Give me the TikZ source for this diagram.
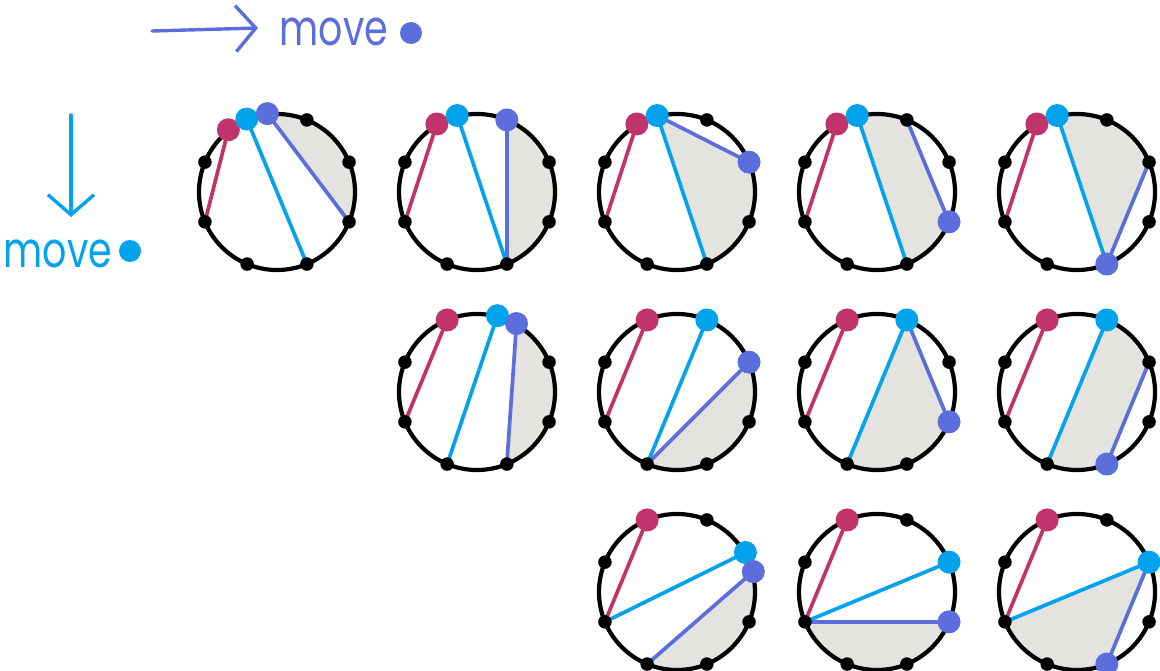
\documentclass[tikz,border=0pt]{standalone}
\usepackage{fontspec}
\newfontfamily\handfont{Poppins}
\usepackage{tikz}
\usetikzlibrary{arrows.meta}
\definecolor{pinkdot}{HTML}{C1336B}
\definecolor{cyandot}{HTML}{02A2EC}
\definecolor{purpledot}{HTML}{5B6EDC}
\definecolor{shadegrey}{HTML}{E4E3E0}

\begin{document}
\begin{tikzpicture}[
  x=1pt, y=1pt,
  ring/.style={draw, circle, line width=4.2pt, minimum size=156pt, inner sep=0pt},
  vdot/.style={circle, fill=black, minimum size=13.5pt, inner sep=0pt},
  cdot/.style={circle, fill=#1, minimum size=23pt, inner sep=0pt},
  chord/.style={draw=#1, line width=3.7pt},
  region/.style={fill=shadegrey},
  hand/.style={text=#1, font=\handfont\fontsize{38}{38}\selectfont, inner sep=0pt},
  barb/.style={draw=#1, line width=3.4pt, line cap=round, line join=round,
    -{Straight Barb[length=20pt, width=46pt]}}
]
\useasboundingbox (0,0) rectangle (1160,-671);

% legend
\coordinate (hfrom) at (152,-31);
\coordinate (hto) at (258,-28);
\draw[barb=purpledot] (hfrom) -- (hto);
\node[hand=purpledot] (hmove) at (334,-32) {\scalebox{1}[1.3]{move}};
\node[cdot=purpledot, minimum size=22pt] (hdot) at (411,-33) {};

\coordinate (vfrom) at (71,-115);
\coordinate (vto) at (71,-217);
\draw[barb=cyandot] (vfrom) -- (vto);
\node[hand=cyandot] (vmove) at (58,-254) {\scalebox{1}[1.3]{move}};
\node[cdot=cyandot, minimum size=22pt] (vdot) at (130,-251) {};

% row 1, column 1
\begin{scope}[shift={(277,-192)}, name prefix=a1-]
  \foreach \k in {0,...,7} \coordinate (v\k) at ({22.5+45*\k}:78);
  \coordinate (pk) at (128:79);
  \coordinate (cy) at (112.5:79);
  \coordinate (pu) at (97:79);
  \fill[region] (97:78) arc[start angle=97, end angle=-22.5, radius=78] -- cycle;
  \node[ring] (ring) at (0,0) {};
  \draw[chord=pinkdot] (pk) -- (v4);
  \draw[chord=cyandot] (cy) -- (v6);
  \draw[chord=purpledot] (pu) -- (v7);
  \foreach \k in {0,1,3,4,5,6,7} \node[vdot] (d\k) at (v\k) {};
  \node[cdot=pinkdot] (pkdot) at (pk) {};
  \node[cdot=cyandot] (cydot) at (cy) {};
  \node[cdot=purpledot] (pudot) at (pu) {};
\end{scope}

% row 1, column 2
\begin{scope}[shift={(477,-192)}, name prefix=a2-]
  \foreach \k in {0,...,7} \coordinate (v\k) at ({22.5+45*\k}:78);
  \coordinate (pk) at (120.5:79);
  \coordinate (cy) at (104.5:79);
  \coordinate (pu) at (v1);
  \fill[region] (pu) arc[start angle=67.5, end angle=-67.5, radius=78] -- cycle;
  \node[ring] (ring) at (0,0) {};
  \draw[chord=pinkdot] (pk) -- (v4);
  \draw[chord=cyandot] (cy) -- (v6);
  \draw[chord=purpledot] (pu) -- (v6);
  \foreach \k in {0,3,4,5,6,7} \node[vdot] (d\k) at (v\k) {};
  \node[cdot=pinkdot] (pkdot) at (pk) {};
  \node[cdot=cyandot] (cydot) at (cy) {};
  \node[cdot=purpledot] (pudot) at (pu) {};
\end{scope}

% row 1, column 3
\begin{scope}[shift={(677,-192)}, name prefix=a3-]
  \foreach \k in {0,...,7} \coordinate (v\k) at ({22.5+45*\k}:78);
  \coordinate (pk) at (120.5:79);
  \coordinate (cy) at (104.5:79);
  \coordinate (pu) at (v0);
  \fill[region] (cy) -- (pu) arc[start angle=22.5, end angle=-67.5, radius=78] -- cycle;
  \node[ring] (ring) at (0,0) {};
  \draw[chord=pinkdot] (pk) -- (v4);
  \draw[chord=cyandot] (cy) -- (v6);
  \draw[chord=purpledot] (cy) -- (pu);
  \foreach \k in {1,3,4,5,6,7} \node[vdot] (d\k) at (v\k) {};
  \node[cdot=pinkdot] (pkdot) at (pk) {};
  \node[cdot=cyandot] (cydot) at (cy) {};
  \node[cdot=purpledot] (pudot) at (pu) {};
\end{scope}

% row 1, column 4
\begin{scope}[shift={(877,-192)}, name prefix=a4-]
  \foreach \k in {0,...,7} \coordinate (v\k) at ({22.5+45*\k}:78);
  \coordinate (pk) at (120.5:79);
  \coordinate (cy) at (104.5:79);
  \coordinate (pu) at (v7);
  \fill[region] (104.5:78) arc[start angle=104.5, end angle=67.5, radius=78] -- (pu)
    arc[start angle=-22.5, end angle=-67.5, radius=78] -- cycle;
  \node[ring] (ring) at (0,0) {};
  \draw[chord=pinkdot] (pk) -- (v4);
  \draw[chord=cyandot] (cy) -- (v6);
  \draw[chord=purpledot] (v1) -- (pu);
  \foreach \k in {0,1,3,4,5,6} \node[vdot] (d\k) at (v\k) {};
  \node[cdot=pinkdot] (pkdot) at (pk) {};
  \node[cdot=cyandot] (cydot) at (cy) {};
  \node[cdot=purpledot] (pudot) at (pu) {};
\end{scope}

% row 1, column 5
\begin{scope}[shift={(1077,-192)}, name prefix=a5-]
  \foreach \k in {0,...,7} \coordinate (v\k) at ({22.5+45*\k}:78);
  \coordinate (pk) at (120.5:79);
  \coordinate (cy) at (104.5:79);
  \coordinate (pu) at (v6);
  \fill[region] (104.5:78) arc[start angle=104.5, end angle=22.5, radius=78] -- (pu) -- cycle;
  \node[ring] (ring) at (0,0) {};
  \draw[chord=pinkdot] (pk) -- (v4);
  \draw[chord=cyandot] (cy) -- (pu);
  \draw[chord=purpledot] (v0) -- (pu);
  \foreach \k in {0,1,3,4,5,7} \node[vdot] (d\k) at (v\k) {};
  \node[cdot=pinkdot] (pkdot) at (pk) {};
  \node[cdot=cyandot] (cydot) at (cy) {};
  \node[cdot=purpledot] (pudot) at (pu) {};
\end{scope}

% row 2, column 2
\begin{scope}[shift={(477,-392)}, name prefix=b2-]
  \foreach \k in {0,...,7} \coordinate (v\k) at ({22.5+45*\k}:78);
  \coordinate (pk) at (v2);
  \coordinate (cy) at (75:79);
  \coordinate (pu) at (60:79);
  \fill[region] (60:78) arc[start angle=60, end angle=-67.5, radius=78] -- cycle;
  \node[ring] (ring) at (0,0) {};
  \draw[chord=pinkdot] (pk) -- (v4);
  \draw[chord=cyandot] (cy) -- (v5);
  \draw[chord=purpledot] (pu) -- (v6);
  \foreach \k in {0,3,4,5,6,7} \node[vdot] (d\k) at (v\k) {};
  \node[cdot=pinkdot] (pkdot) at (pk) {};
  \node[cdot=cyandot] (cydot) at (cy) {};
  \node[cdot=purpledot] (pudot) at (pu) {};
\end{scope}

% row 2, column 3
\begin{scope}[shift={(677,-392)}, name prefix=b3-]
  \foreach \k in {0,...,7} \coordinate (v\k) at ({22.5+45*\k}:78);
  \coordinate (pk) at (v2);
  \coordinate (cy) at (v1);
  \coordinate (pu) at (v0);
  \fill[region] (pu) arc[start angle=22.5, end angle=-112.5, radius=78] -- cycle;
  \node[ring] (ring) at (0,0) {};
  \draw[chord=pinkdot] (pk) -- (v4);
  \draw[chord=cyandot] (cy) -- (v5);
  \draw[chord=purpledot] (pu) -- (v5);
  \foreach \k in {3,4,5,6,7} \node[vdot] (d\k) at (v\k) {};
  \node[cdot=pinkdot] (pkdot) at (pk) {};
  \node[cdot=cyandot] (cydot) at (cy) {};
  \node[cdot=purpledot] (pudot) at (pu) {};
\end{scope}

% row 2, column 4
\begin{scope}[shift={(877,-392)}, name prefix=b4-]
  \foreach \k in {0,...,7} \coordinate (v\k) at ({22.5+45*\k}:78);
  \coordinate (pk) at (v2);
  \coordinate (cy) at (v1);
  \coordinate (pu) at (v7);
  \fill[region] (cy) -- (pu) arc[start angle=-22.5, end angle=-112.5, radius=78] -- cycle;
  \node[ring] (ring) at (0,0) {};
  \draw[chord=pinkdot] (pk) -- (v4);
  \draw[chord=cyandot] (cy) -- (v5);
  \draw[chord=purpledot] (cy) -- (pu);
  \foreach \k in {0,3,4,5,6} \node[vdot] (d\k) at (v\k) {};
  \node[cdot=pinkdot] (pkdot) at (pk) {};
  \node[cdot=cyandot] (cydot) at (cy) {};
  \node[cdot=purpledot] (pudot) at (pu) {};
\end{scope}

% row 2, column 5
\begin{scope}[shift={(1077,-392)}, name prefix=b5-]
  \foreach \k in {0,...,7} \coordinate (v\k) at ({22.5+45*\k}:78);
  \coordinate (pk) at (v2);
  \coordinate (cy) at (v1);
  \coordinate (pu) at (v6);
  \fill[region] (cy) arc[start angle=67.5, end angle=22.5, radius=78] -- (pu)
    arc[start angle=-67.5, end angle=-112.5, radius=78] -- cycle;
  \node[ring] (ring) at (0,0) {};
  \draw[chord=pinkdot] (pk) -- (v4);
  \draw[chord=cyandot] (cy) -- (v5);
  \draw[chord=purpledot] (v0) -- (pu);
  \foreach \k in {0,3,4,5,7} \node[vdot] (d\k) at (v\k) {};
  \node[cdot=pinkdot] (pkdot) at (pk) {};
  \node[cdot=cyandot] (cydot) at (cy) {};
  \node[cdot=purpledot] (pudot) at (pu) {};
\end{scope}

% row 3, column 3
\begin{scope}[shift={(677,-592)}, name prefix=c3-]
  \foreach \k in {0,...,7} \coordinate (v\k) at ({22.5+45*\k}:78);
  \coordinate (pk) at (v2);
  \coordinate (cy) at (30:79);
  \coordinate (pu) at (15:79);
  \fill[region] (15:78) arc[start angle=15, end angle=-112.5, radius=78] -- cycle;
  \node[ring] (ring) at (0,0) {};
  \draw[chord=pinkdot] (pk) -- (v4);
  \draw[chord=cyandot] (cy) -- (v4);
  \draw[chord=purpledot] (pu) -- (v5);
  \foreach \k in {1,3,4,5,6,7} \node[vdot] (d\k) at (v\k) {};
  \node[cdot=pinkdot] (pkdot) at (pk) {};
  \node[cdot=cyandot] (cydot) at (cy) {};
  \node[cdot=purpledot] (pudot) at (pu) {};
\end{scope}

% row 3, column 4
\begin{scope}[shift={(877,-592)}, name prefix=c4-]
  \foreach \k in {0,...,7} \coordinate (v\k) at ({22.5+45*\k}:78);
  \coordinate (pk) at (v2);
  \coordinate (cy) at (v0);
  \coordinate (pu) at (v7);
  \fill[region] (v4) -- (pu) arc[start angle=-22.5, end angle=-157.5, radius=78] -- cycle;
  \node[ring] (ring) at (0,0) {};
  \draw[chord=pinkdot] (pk) -- (v4);
  \draw[chord=cyandot] (cy) -- (v4);
  \draw[chord=purpledot] (v4) -- (pu);
  \foreach \k in {1,3,4,5,6} \node[vdot] (d\k) at (v\k) {};
  \node[cdot=pinkdot] (pkdot) at (pk) {};
  \node[cdot=cyandot] (cydot) at (cy) {};
  \node[cdot=purpledot] (pudot) at (pu) {};
\end{scope}

% row 3, column 5
\begin{scope}[shift={(1077,-592)}, name prefix=c5-]
  \foreach \k in {0,...,7} \coordinate (v\k) at ({22.5+45*\k}:78);
  \coordinate (pk) at (v2);
  \coordinate (cy) at (v0);
  \coordinate (pu) at (v6);
  \fill[region] (v4) -- (cy) -- (pu) arc[start angle=-67.5, end angle=-157.5, radius=78] -- cycle;
  \node[ring] (ring) at (0,0) {};
  \draw[chord=pinkdot] (pk) -- (v4);
  \draw[chord=cyandot] (cy) -- (v4);
  \draw[chord=purpledot] (cy) -- (pu);
  \foreach \k in {1,3,4,5,7} \node[vdot] (d\k) at (v\k) {};
  \node[cdot=pinkdot] (pkdot) at (pk) {};
  \node[cdot=cyandot] (cydot) at (cy) {};
  \node[cdot=purpledot] (pudot) at (pu) {};
\end{scope}
\end{tikzpicture}
\end{document}
